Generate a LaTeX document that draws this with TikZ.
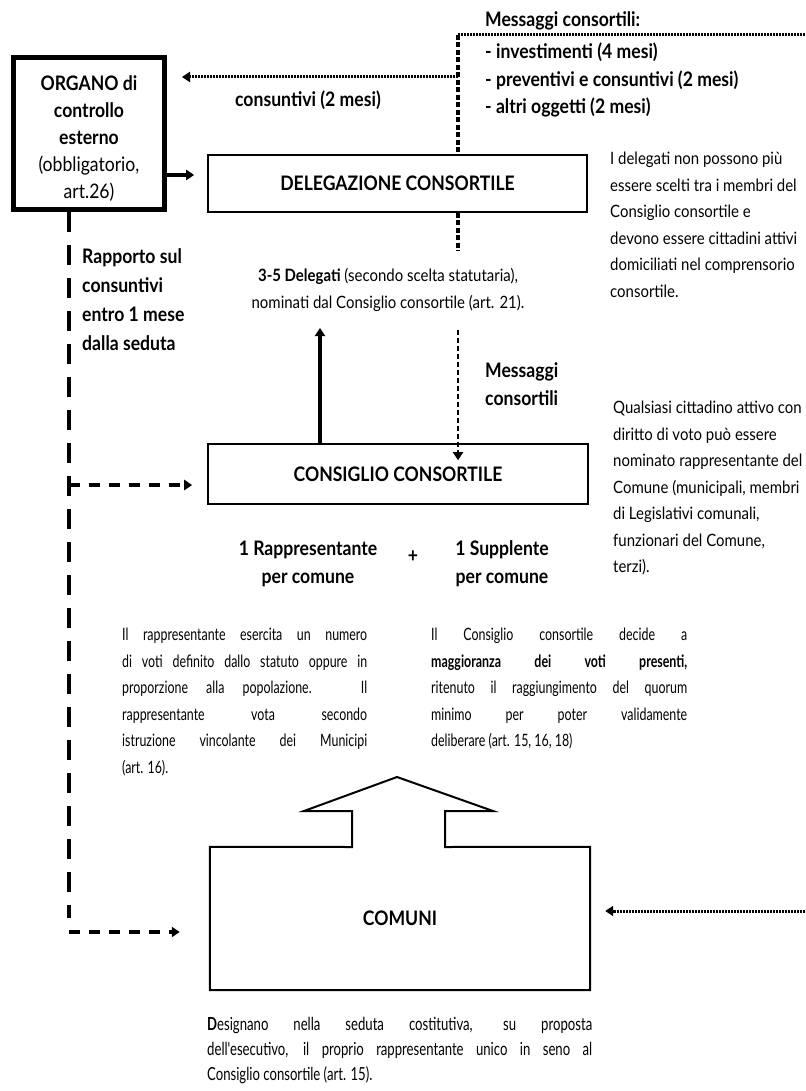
\documentclass[tikz,border=0pt]{standalone}
\usepackage{fontspec}
\setmainfont{Lato}[FakeStretch=0.88]
\newfontfamily\condfont{Lato}[FakeStretch=0.73]
\usetikzlibrary{arrows.meta,calc}
\begin{document}
\begin{tikzpicture}[x=1pt,y=-1pt,
  box/.style={draw, line width=1.6pt, inner sep=0pt},
  reg/.style={font=\fontsize{17}{26.5}\selectfont, inner sep=0pt},
  para/.style={font=\condfont\fontsize{17}{26.5}\selectfont, inner sep=0pt},
  bld/.style={font=\fontsize{20}{28}\selectfont\bfseries, inner sep=0pt},
  tip/.style={-{Triangle[length=8pt,width=10pt]}},
  dotline/.style={line width=3pt, dash pattern=on 2pt off 1pt},
  fineDash/.style={line width=3.5pt, dash pattern=on 5pt off 2.5pt},
  thickV/.style={line width=4pt, dash pattern=on 20pt off 13pt},
  thickH/.style={line width=4pt, dash pattern=on 11pt off 9pt},
]
\useasboundingbox (0,0) rectangle (805,1091);

% boxes
\node[draw, line width=5pt, minimum width=151pt, minimum height=152pt, inner sep=0pt] (organo) at (89,133.5) {};
\node[reg, align=center, font=\fontsize{20}{27}\selectfont] (organotxt) at (89,139)
  {\textbf{ORGANO di}\\ \textbf{controllo}\\ \textbf{esterno}\\ (obbligatorio,\\ art.26)};

\node[box, minimum width=379pt, minimum height=57pt, bld] (deleg) at (397.5,183.5) {DELEGAZIONE CONSORTILE};
\node[box, minimum width=380pt, minimum height=60pt, bld] (consiglio) at (398,474) {CONSIGLIO CONSORTILE};
\node[minimum width=380pt, minimum height=143pt, inner sep=0pt, bld] (comuni) at (400,918.5) {COMUNI};
\draw[line width=2pt, line join=miter]
  (comuni.north west) -- (352,847) -- (352,811) -- (304,811) -- (397,777) -- (493,811)
  -- (445,811) -- (445,847) -- (comuni.north east) -- (comuni.south east) -- (comuni.south west) -- cycle;

% top messages
\node[bld, anchor=west] (msgtitle) at (485,21) {Messaggi consortili:};
\node[bld, anchor=west, align=left, font=\fontsize{20}{27.5}\selectfont\bfseries] (msglist) at (485,80)
  {- investimenti (4 mesi)\\ - preventivi e consuntivi (2 mesi)\\ - altri oggetti (2 mesi)};
\coordinate (msgtop) at (458,35);
\coordinate (msgright) at (805,35);
\draw[dotline] (msgtop) -- (msgright);
\draw[fineDash] (msgtop) -- (deleg.north -| msgtop);
\draw[fineDash] (deleg.south -| msgtop) -- ++(0,38);
\coordinate (c77) at (458,77);
\draw[dotline, tip] (c77) -- ([xshift=15pt]organo.east |- c77);
\node[bld] (cons2) at (308,100) {consuntivi (2 mesi)};

% organo -> delegazione
\coordinate (c175) at (167,175);
\draw[line width=4pt, tip] (organo.east |- c175) -- ([xshift=-13pt]deleg.west |- c175);

% right notes
\node[reg, anchor=west, align=left] (note1) at (610,225)
  {I delegati non possono più\\ essere scelti tra i membri del\\ Consiglio consortile e\\ devono essere cittadini attivi\\ domiciliati nel comprensorio\\ consortile.};
\node[reg, anchor=west, align=left] (note2) at (613,488)
  {Qualsiasi cittadino attivo con\\ diritto di voto può essere\\ nominato rappresentante del\\ Comune (municipali, membri\\ di Legislativi comunali,\\ funzionari del Comune,\\ terzi).};

% delegati text
\node[reg, align=center] (delegati) at (388,290)
  {{\bfseries 3-5 Delegati} (secondo scelta statutaria),\\ nominati dal Consiglio consortile (art. 21).};

% arrows between delegazione and consiglio
\coordinate (uptip) at (320,328);
\draw[line width=4pt, tip] (consiglio.north -| uptip) -- (uptip);
\coordinate (downstart) at (458,330);
\draw[line width=2.5pt, dash pattern=on 5pt off 3pt, tip] (downstart) -- ([yshift=-17pt]consiglio.north -| downstart);
\node[bld, anchor=west, align=left] (msg2) at (485,384) {Messaggi\\ consortili};

% rapporto
\node[bld, anchor=west, align=left, font=\fontsize{20}{29}\selectfont\bfseries] (rapp) at (82,300) {Rapporto sul\\ consuntivi\\ entro 1 mese\\ dalla seduta};

% left dashed lines
\coordinate (vx) at (69,212);
\coordinate (b1) at (69,485);
\coordinate (b2) at (69,932);
\draw[thickV] (vx) -- (69,918);
\draw[thickH, tip] (b1) -- ([xshift=-15pt]consiglio.west |- b1);
\draw[thickH, tip] (b2) -- ([xshift=-30pt]comuni.west |- b2);

% representatives
\node[bld, align=center] (rappr) at (308,564) {1 Rappresentante\\ per comune};
\node[bld] (plus) at (413,557) {+};
\node[bld, align=center] (suppl) at (502,564) {1 Supplente\\ per comune};

% paragraphs
\node[para, anchor=north west, text width=245pt, align=justify] (par1) at (122,628)
  {Il rappresentante esercita un numero\linebreak di voti definito dallo statuto oppure in\linebreak proporzione alla popolazione. Il\linebreak rappresentante vota secondo\linebreak istruzione vincolante dei Municipi\linebreak (art. 16).};
\node[para, anchor=north west, text width=256pt, align=justify] (par2) at (431,628)
  {Il Consiglio consortile decide a\linebreak \textbf{maggioranza dei voti presenti,}\linebreak ritenuto il raggiungimento del quorum\linebreak minimo per poter validamente\linebreak deliberare (art. 15, 16, 18)};

% right dotted arrow into comuni
\coordinate (rin) at (805,911);
\draw[dotline, tip] (rin) -- ([xshift=15pt]comuni.east |- rin);

% bottom text
\node[para, anchor=north west, text width=385pt, align=justify, font=\condfont\fontsize{18}{25}\selectfont] (par3) at (207,1017)
  {\textbf{D}esignano nella seduta costitutiva, su proposta\linebreak dell'esecutivo, il proprio rappresentante unico in seno al\linebreak Consiglio consortile (art. 15).};
\end{tikzpicture}
\end{document}
